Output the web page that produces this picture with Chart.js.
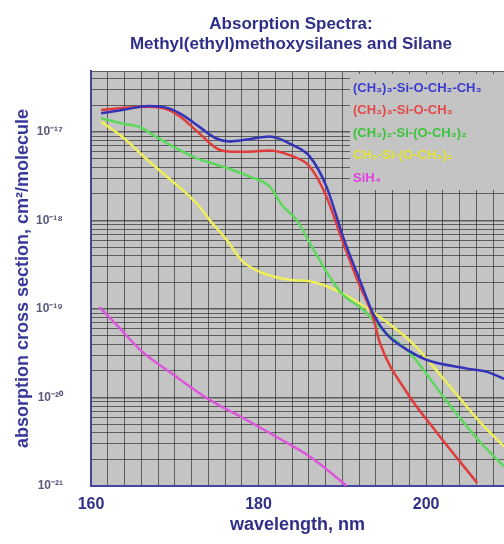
<!DOCTYPE html>
<html>
<head>
<meta charset="utf-8">
<script src="https://cdn.jsdelivr.net/npm/chart.js@4"></script>
<style>
  html, body { margin: 0; padding: 0; background: #fff; }
  canvas { display: block; }
</style>
</head>
<body>
<canvas id="chart" width="504" height="544"></canvas>
<script>
// données (longueur d'onde en nm, section efficace en cm2/molecule)
const labels = ['(CH₃)₃-Si-O-CH₂-CH₃', '(CH₃)₃-Si-O-CH₃', '(CH₃)₂-Si-(O-CH₃)₂', 'CH₃-Si-(O-CH₃)₃', 'SiH₄']

const wlEthoxy = [161.2, 163.7, 166.9, 169.3, 170.9, 172.9, 174.9, 176.5, 178.9, 181.3, 184.1, 186.1, 188.1, 190.1, 192.1, 193.7, 195.3, 198.1, 200.1, 204.9, 207.3, 209.3]
const sigEthoxy = [1.63e-17, 1.77e-17, 1.97e-17, 1.85e-17, 1.56e-17, 1.15e-17, 8.5e-18, 7.8e-18, 8.3e-18, 8.9e-18, 7.1e-18, 5.3e-18, 2.43e-18, 6.5e-19, 2.1e-19, 8.8e-20, 5.2e-20, 3.3e-20, 2.65e-20, 2.12e-20, 1.95e-20, 1.62e-20]

const wlMethoxy = [161.2, 163.7, 166.9, 169.3, 170.9, 172.9, 175.3, 176.9, 178.9, 181.3, 184.1, 186.1, 188.1, 189.9, 191.9, 193.6, 194.5, 197.7, 201.3, 206.1]
const sigMethoxy = [1.77e-17, 1.87e-17, 1.93e-17, 1.77e-17, 1.43e-17, 9.7e-18, 6.3e-18, 6.0e-18, 6.0e-18, 6.2e-18, 5.3e-18, 4.07e-18, 1.87e-18, 6.3e-19, 2.0e-19, 8.5e-20, 4.1e-20, 1.14e-20, 4.0e-21, 1.08e-21]

const wlDimethoxy = [161.2, 163.7, 165.7, 167.7, 170.1, 172.5, 175.7, 178.9, 181.3, 182.9, 184.5, 186.3, 188.5, 190.0, 192.4, 194.8, 198.1, 202.5, 206.5, 209.3]
const sigDimethoxy = [1.43e-17, 1.25e-17, 1.15e-17, 8.9e-18, 6.6e-18, 5.1e-18, 4.07e-18, 3.15e-18, 2.43e-18, 1.45e-18, 1.03e-18, 5.2e-19, 2.3e-19, 1.47e-19, 1.0e-19, 5.8e-20, 3.16e-20, 9.0e-21, 3.1e-21, 1.66e-21]

const wlTrimethoxy = [161.2, 163.7, 166.1, 168.5, 170.9, 172.9, 174.1, 176.1, 178.1, 180.5, 183.7, 186.1, 188.5, 190.9, 193.3, 195.7, 198.4, 202.5, 206.5, 209.3]
const sigTrimethoxy = [1.31e-17, 8.9e-18, 5.5e-18, 3.46e-18, 2.23e-18, 1.45e-18, 1.03e-18, 6.2e-19, 3.45e-19, 2.55e-19, 2.14e-19, 2.06e-19, 1.75e-19, 1.35e-19, 9.7e-20, 6.7e-20, 4.1e-20, 1.46e-20, 5.2e-21, 2.8e-21]

const wlSilane = [161.0, 163.0, 166.1, 169.7, 174.1, 178.1, 182.1, 186.1, 190.1, 190.5]
const sigSilane = [1.05e-19, 6.7e-20, 3.3e-20, 1.85e-20, 9.5e-21, 5.9e-21, 3.6e-21, 2.15e-21, 1.08e-21, 1.0e-21]

const xTickLabels = [160, 180, 200]

const xMin = 160, xMax = 209.3
const yMin = 1e-21, yMax = 4.89e-17

const lineColors = ['#3434b8', '#e03c3c', '#5cd85c', '#eeee5a', '#dc55dc']
const textColors = ['#3b3bd0', '#e24a4a', '#3cc43c', '#e2e23a', '#e040e0']
const plotBg = '#c4c4c4'
const gridColor = 'rgba(50,50,50,0.7)'
const navy = '#2f2f88'
const font = '"Liberation Sans", Arial, sans-serif'

function toPoints(wl, sig) {
    return wl.map((w, i) => ({x: w, y: sig[i]}))
}

const series = [
    toPoints(wlEthoxy, sigEthoxy),
    toPoints(wlMethoxy, sigMethoxy),
    toPoints(wlDimethoxy, sigDimethoxy),
    toPoints(wlTrimethoxy, sigTrimethoxy),
    toPoints(wlSilane, sigSilane)
]

const sup = {'-': '⁻', '0': '⁰', '1': '¹', '2': '²', '3': '³', '4': '⁴', '5': '⁵', '6': '⁶', '7': '⁷', '8': '⁸', '9': '⁹'}
function powerLabel(e) {
    return '10' + String(e).split('').map(c => sup[c]).join('')
}
function isDecade(v) {
    const e = Math.log10(v)
    return Math.abs(e - Math.round(e)) < 1e-6
}

// fond gris de la zone de tracé
const plotBackground = {
    id: 'plotBackground',
    beforeDraw(chart) {
        const {ctx, chartArea} = chart
        ctx.save()
        ctx.fillStyle = plotBg
        ctx.fillRect(chartArea.left, chartArea.top, chartArea.right - chartArea.left, chartArea.bottom - chartArea.top)
        ctx.restore()
    },
    afterLayout(chart) {
        // titre centré un peu à droite comme sur l'original
        chart.titleBlock.left = 78
    }
}

// légende dans le coin en haut à droite, texte coloré
const legendBox = {
    id: 'legendBox',
    beforeDatasetsDraw(chart) {
        const {ctx, chartArea} = chart
        ctx.save()
        ctx.fillStyle = plotBg
        ctx.fillRect(chartArea.right - 154, chartArea.top + 3, 154, 116)
        ctx.font = 'bold 13px ' + font
        ctx.textBaseline = 'middle'
        ctx.textAlign = 'left'
        chart.data.datasets.forEach((ds, i) => {
            ctx.fillStyle = textColors[i]
            ctx.fillText(ds.label, chartArea.right - 151, chartArea.top + 17 + i * 22.6)
        })
        ctx.restore()
    }
}

new Chart(document.getElementById('chart'), {
    type: 'line',
    data: {
        datasets: series.map((pts, i) => ({
            label: labels[i],
            data: pts,
            borderColor: lineColors[i],
            backgroundColor: lineColors[i],
            borderWidth: 2.5,
            pointRadius: 0,
            fill: false,
            cubicInterpolationMode: 'monotone'
        }))
    },
    options: {
        responsive: false,
        animation: false,
        parsing: false,
        layout: { padding: 0 },
        plugins: {
            legend: { display: false },
            tooltip: { enabled: false },
            title: {
                display: true,
                text: ['Absorption Spectra:', 'Methyl(ethyl)methoxysilanes and Silane'],
                color: navy,
                font: { family: font, size: 17, weight: 'bold', lineHeight: 20 / 17 },
                padding: { top: 14, bottom: 17 }
            }
        },
        scales: {
            x: {
                type: 'linear',
                min: xMin,
                max: xMax,
                afterFit: (scale) => { scale.height = 58 },
                border: { color: '#4646a0', width: 2 },
                grid: { color: gridColor, lineWidth: 1, drawTicks: false },
                ticks: {
                    stepSize: 2,
                    autoSkip: false,
                    includeBounds: false,
                    maxRotation: 0,
                    padding: 9,
                    color: navy,
                    font: { family: font, size: 16, weight: 'bold' },
                    callback: (v) => xTickLabels.includes(Math.round(v * 100) / 100) ? String(v) : ''
                },
                title: {
                    display: true,
                    text: 'wavelength, nm',
                    color: navy,
                    font: { family: font, size: 18, weight: 'bold' },
                    padding: { top: 0, bottom: 8 }
                }
            },
            y: {
                type: 'logarithmic',
                min: yMin,
                max: yMax,
                afterFit: (scale) => { scale.width = 91 },
                afterBuildTicks: (scale) => {
                    scale.ticks = scale.ticks.filter(t => {
                        if (t.value === yMax) return true
                        const m = t.value / Math.pow(10, Math.floor(Math.log10(t.value) + 1e-9))
                        return Math.abs(m - Math.round(m)) < 1e-6 && Math.round(m) < 10
                    })
                },
                border: { color: '#4646a0', width: 2 },
                grid: {
                    color: gridColor,
                    lineWidth: (ctx) => ctx.tick && isDecade(ctx.tick.value) ? 1.5 : 1,
                    drawTicks: false
                },
                ticks: {
                    autoSkip: false,
                    padding: 28,
                    color: '#5a5a7c',
                    font: { family: font, size: 12, weight: 'bold' },
                    callback: (v) => isDecade(v) ? powerLabel(Math.round(Math.log10(v))) : ''
                },
                title: {
                    display: true,
                    text: 'absorption cross section, cm²/molecule',
                    color: '#38389a',
                    font: { family: font, size: 18, weight: 'bold' },
                    padding: { top: 12, bottom: 0 }
                }
            }
        }
    },
    plugins: [plotBackground, legendBox]
})
</script>
</body>
</html>
